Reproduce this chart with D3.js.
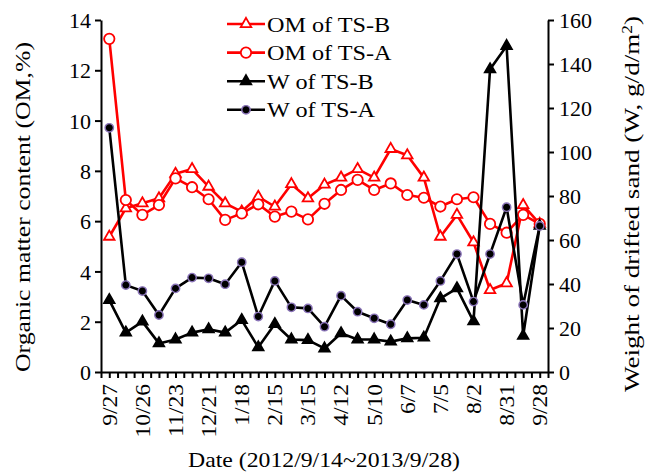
<!DOCTYPE html>
<html>
<head>
<meta charset="utf-8">
<script src="https://cdn.jsdelivr.net/npm/d3@7"></script>
<style>
  body { margin: 0; background: #fff; }
  text { font-family: "Liberation Serif", "Times New Roman", serif; fill: #000; }
</style>
</head>
<body>
<div id="chart"></div>
<script>
// sampling dates, every two weeks
var dates = ["9/27", "10/12", "10/26", "11/9", "11/23", "12/7", "12/21", "1/4", "1/18", "2/1",
    "2/15", "3/1", "3/15", "3/29", "4/12", "4/26", "5/10", "5/24", "6/7", "6/21",
    "7/5", "7/19", "8/2", "8/16", "8/31", "9/14", "9/28"];

// organic matter content (%), left axis
var omB = [5.38, 6.51, 6.71, 6.91, 7.88, 8.07, 7.37, 6.71, 6.38, 6.97, 6.58, 7.47, 6.91, 7.45,
    7.73, 8.07, 7.73, 8.87, 8.62, 7.73, 5.38, 6.25, 5.16, 3.26, 3.53, 6.64, 5.89];
var omA = [13.25, 6.84, 6.25, 6.64, 7.7, 7.35, 6.87, 6.05, 6.31, 6.67, 6.18, 6.38, 6.07, 6.69,
    7.24, 7.64, 7.24, 7.5, 7.04, 6.93, 6.58, 6.87, 6.95, 5.89, 5.54, 6.25, 5.89];

// weight of drifted sand (g/d/m2), right axis
var wB = [32.7, 17.9, 22.9, 13.0, 14.8, 17.9, 19.4, 17.9, 23.6, 11.2, 21.8, 14.8, 14.5, 10.7,
    17.6, 14.8, 14.8, 13.8, 15.3, 15.6, 33.5, 38.0, 23.0, 137.6, 148.2, 16.4, 66.4];
var wA = [111, 39.5, 36.8, 25.9, 38.0, 42.9, 42.6, 39.9, 49.9, 25.2, 41.4, 29.4, 28.9, 20.6,
    34.7, 27.4, 24.4, 21.7, 32.7, 30.5, 41.4, 53.6, 32.0, 53.6, 74.9, 30.5, 66.4];

var leftTicks = [0, 2, 4, 6, 8, 10, 12, 14];
var rightTicks = [0, 20, 40, 60, 80, 100, 120, 140, 160];

var svg = d3.select("#chart")
    .append("svg")
    .attr("width", 647)
    .attr("height", 473);

var margin = {top: 20, right: 99, bottom: 101, left: 101};
var width = 647 - margin.left - margin.right;
var height = 473 - margin.top - margin.bottom;

var g = svg.append("g")
    .attr("transform", "translate(" + margin.left + "," + margin.top + ")");

var x = d3.scaleLinear()
    .domain([-0.5, dates.length - 0.5])
    .range([0, width]);

var yL = d3.scaleLinear().domain([0, 14]).range([height, 0]);
var yR = d3.scaleLinear().domain([0, 160]).range([height, 0]);

// x axis: a tick every week, label every four weeks
var xTicks = d3.range(-0.5, dates.length - 0.4, 0.5);
var xAxis = d3.axisBottom(x)
    .tickValues(xTicks)
    .tickSize(6)
    .tickSizeOuter(0)
    .tickFormat("");

g.append("g")
    .attr("transform", "translate(0," + height + ")")
    .call(xAxis);

g.selectAll(".xlab")
    .data(dates)
    .enter()
    .append("text")
    .attr("class", "xlab")
    .attr("transform", function(d, i) {
        return "translate(" + x(i) + "," + (height + 12) + ") rotate(-90) scale(1.12,1)";
    })
    .attr("dy", "0.35em")
    .style("text-anchor", "end")
    .style("font-size", "21px")
    .text(function(d, i) { return i % 2 === 0 ? d : ""; });

var gl = g.append("g")
    .call(d3.axisLeft(yL).tickValues(leftTicks).tickSize(6).tickSizeOuter(0).tickPadding(4));
gl.selectAll("text").style("font-size", "22px").attr("dy", "0.35em");

var gr = g.append("g")
    .attr("transform", "translate(" + width + ",0)")
    .call(d3.axisRight(yR).tickValues(rightTicks).tickSize(6).tickSizeOuter(0).tickPadding(5));
gr.selectAll("text").style("font-size", "22px").attr("dy", "0.35em");

g.selectAll(".domain, .tick line")
    .attr("stroke", "#000")
    .attr("stroke-width", 2);

// series
var series = [
    {name: "OM of TS-B", values: omB, y: yL, color: "#ff0000", shape: "tri", fill: "#fff"},
    {name: "OM of TS-A", values: omA, y: yL, color: "#ff0000", shape: "circ", fill: "#fff"},
    {name: "W of TS-B", values: wB, y: yR, color: "#000", shape: "tri", fill: "#000"},
    {name: "W of TS-A", values: wA, y: yR, color: "#000", shape: "circ", fill: "#000"}
];

var triPath = d3.symbol().type(d3.symbolTriangle).size(48);

function drawMarker(sel, s) {
    if (s.shape === "tri") {
        sel.append("path")
            .attr("d", triPath)
            .attr("fill", s.fill)
            .attr("stroke", s.color)
            .attr("stroke-width", 1.8);
    } else {
        sel.append("circle")
            .attr("r", s.fill === "#fff" ? 5.2 : 4.2)
            .attr("fill", s.fill)
            .attr("stroke", s.fill === "#fff" ? s.color : "#8a74b8")
            .attr("stroke-width", s.fill === "#fff" ? 1.8 : 1.4);
    }
}

series.forEach(function(s) {
    var line = d3.line()
        .x(function(d, i) { return x(i); })
        .y(function(d) { return s.y(d); });

    g.append("path")
        .datum(s.values)
        .attr("fill", "none")
        .attr("stroke", s.color)
        .attr("stroke-width", 2.6)
        .attr("stroke-linejoin", "round")
        .attr("d", line);

    g.selectAll(null)
        .data(s.values)
        .enter()
        .append("g")
        .attr("transform", function(d, i) {
            return "translate(" + x(i) + "," + s.y(d) + ")";
        })
        .each(function() { drawMarker(d3.select(this), s); });
});

// legend
var legend = svg.append("g").attr("transform", "translate(227,24)");
series.forEach(function(s, i) {
    var row = legend.append("g").attr("transform", "translate(0," + (i * 28.6) + ")");
    row.append("line")
        .attr("x1", 0).attr("x2", 38)
        .attr("stroke", s.color)
        .attr("stroke-width", 2.6);
    drawMarker(row.append("g").attr("transform", "translate(19,0)"), s);
    row.append("text")
        .attr("transform", "translate(40,7.5) scale(1.1,1)")
        .style("font-size", "22px")
        .text(s.name);
});

// axis titles
svg.append("text")
    .attr("x", 188)
    .attr("y", 467)
    .attr("textLength", 272)
    .attr("lengthAdjust", "spacingAndGlyphs")
    .style("font-size", "22px")
    .text("Date (2012/9/14~2013/9/28)");

svg.append("text")
    .attr("transform", "translate(30,372) rotate(-90)")
    .attr("textLength", 330)
    .attr("lengthAdjust", "spacingAndGlyphs")
    .style("font-size", "22px")
    .text("Organic matter content (OM,%)");

var rt = svg.append("text")
    .attr("transform", "translate(639,392) rotate(-90)")
    .attr("textLength", 376)
    .attr("lengthAdjust", "spacingAndGlyphs")
    .style("font-size", "22px");
rt.append("tspan").text("Weight of drifted sand (W, g/d/m");
rt.append("tspan").attr("baseline-shift", "super").style("font-size", "14px").text("2");
rt.append("tspan").text(")");
</script>
</body>
</html>
